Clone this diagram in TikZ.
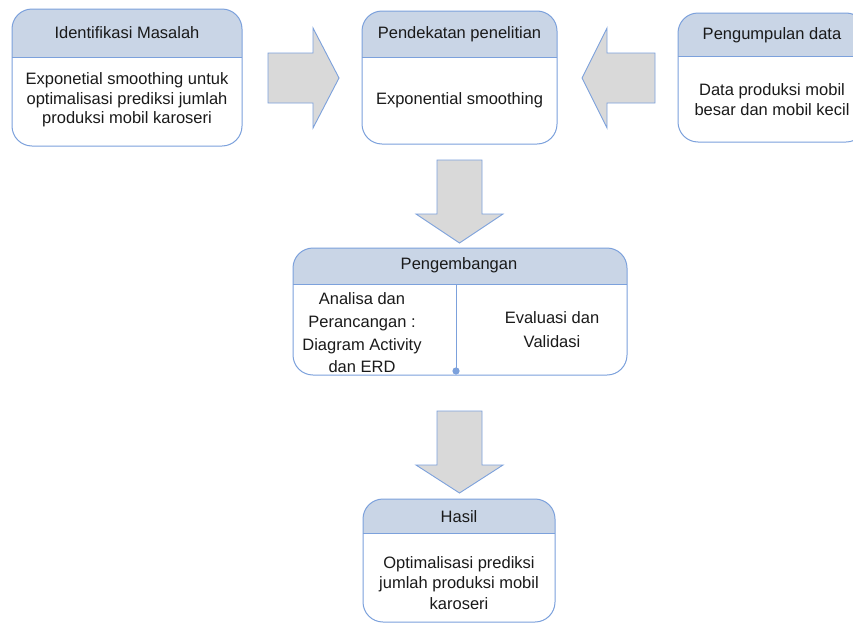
\documentclass[tikz,border=0pt]{standalone}
\usepackage{fontspec}
\setmainfont{Liberation Sans}
\usetikzlibrary{calc}
\definecolor{hdr}{HTML}{C9D5E6}
\definecolor{bord}{HTML}{7CA1DC}
\definecolor{arr}{HTML}{D9D9D9}
\definecolor{ink}{HTML}{1A1A1A}
\newcommand\mybox[6]{% #1 name, #2 x1, #3 y1, #4 x2, #5 y2, #6 header bottom
  \fill[white, rounded corners=20pt] (#2,#3) rectangle (#4,#5);
  \begin{scope}
    \clip[rounded corners=20pt] (#2,#3) rectangle (#4,#5);
    \fill[hdr] (#2,#3) rectangle (#4,#6);
  \end{scope}
  \draw[boxline] (#2,#6) -- (#4,#6);
  \draw[boxline, rounded corners=20pt] (#2,#3) rectangle (#4,#5);
  \coordinate (#1) at ($(#2,#3)!0.5!(#4,#5)$);
}
\begin{document}
\begin{tikzpicture}[x=1pt,y=-1pt,
  boxline/.style={draw=bord, line width=1pt},
  txt/.style={font=\fontsize{16.5}{19.5}\selectfont, align=center, text=ink, inner sep=0pt},
  blockarrow/.style={fill=arr, draw=bord, line width=0.9pt, line join=miter}]
\useasboundingbox (0,0) rectangle (853,624);
\clip (0,0) rectangle (853,624);
\fill[white] (0,0) rectangle (853,624);

% boxes
\mybox{b1}{12}{9}{242}{146}{57}
\mybox{b2}{362}{11}{557}{144}{57}
\mybox{b3}{678}{13}{866}{142}{56}
\mybox{b4}{293}{248}{627}{375}{284}
\mybox{b5}{363}{499}{555}{622}{533}

% divider in Pengembangan
\coordinate (dtop) at (456,284);
\coordinate (dbot) at (456,371);
\draw[boxline] (dtop) -- (dbot);
\fill[bord] (dbot) circle (3.6pt);

% block arrows
\draw[blockarrow] (268,53) -- (313,53) -- (313,28) -- (339,78) -- (313,128) -- (313,103) -- (268,103) -- cycle;
\draw[blockarrow] (655,53) -- (607,53) -- (607,28) -- (582,78) -- (607,128) -- (607,103) -- (655,103) -- cycle;
\draw[blockarrow] (437,160) -- (482,160) -- (482,214) -- (503,214) -- (459.5,243) -- (416,214) -- (437,214) -- cycle;
\draw[blockarrow] (437,411) -- (482,411) -- (482,465) -- (503,465) -- (459.5,493) -- (416,465) -- (437,465) -- cycle;

% texts
\node[txt] (h1) at (127,33) {Identifikasi Masalah};
\node[txt] (t1) at (127,100) {Exponetial smoothing untuk\\optimalisasi prediksi jumlah\\produksi mobil karoseri};
\node[txt] (h2) at (459.5,34) {Pendekatan penelitian};
\node[txt] (t2) at (459.5,100) {Exponential smoothing};
\node[txt] (h3) at (772,35) {Pengumpulan data};
\node[txt, font=\fontsize{16.5}{20}\selectfont] (t3) at (772,100) {Data produksi mobil\\besar dan mobil kecil};
\node[txt] (h4) at (459,265) {Pengembangan};
\node[txt, font=\fontsize{16.5}{22.7}\selectfont] (t4a) at (362,333) {Analisa dan\\Perancangan :\\Diagram Activity\\dan ERD};
\node[txt, font=\fontsize{16.5}{24}\selectfont] (t4b) at (552,330) {Evaluasi dan\\Validasi};
\node[txt] (h5) at (459,517) {Hasil};
\node[txt, font=\fontsize{16.5}{20.5}\selectfont] (t5) at (459,583) {Optimalisasi prediksi\\jumlah produksi mobil\\karoseri};
\end{tikzpicture}
\end{document}
